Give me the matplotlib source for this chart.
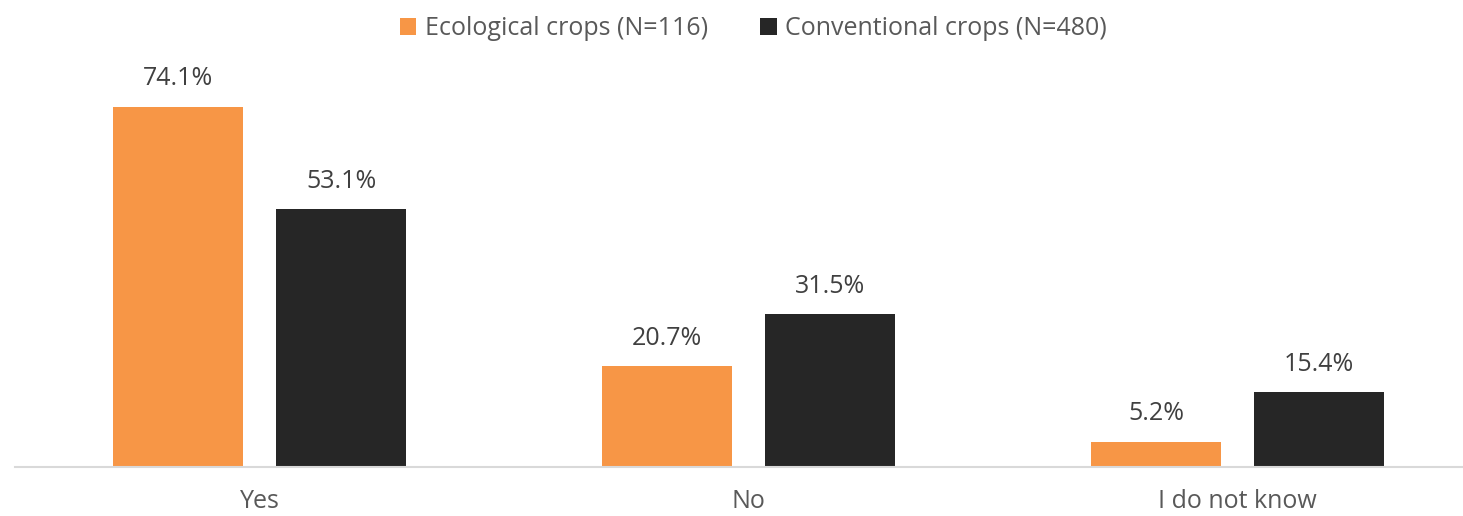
import matplotlib.pyplot as plt
import numpy as np

plt.rcParams['font.family'] = ['Open Sans', 'DejaVu Sans']

# data
categories = ['Yes', 'No', 'I do not know']
ecological = [74.1, 20.7, 5.2]
conventional = [53.1, 31.5, 15.4]
series_names = ['Ecological crops (N=116)', 'Conventional crops (N=480)']

orange = '#F79646'
dark = '#262626'

W, H = 1463, 516
fig = plt.figure(figsize=(W / 100, H / 100), dpi=100)
# axes placed in pixel terms: baseline at y=467, category band 489 px wide
ax = fig.add_axes([15 / W, 49 / H, 1467 / W, 389 / H])

x = np.arange(len(categories))
barWidth = 0.266
off = 0.1667

b1 = ax.bar(x - off, ecological, width=barWidth, color=orange, label=series_names[0])
b2 = ax.bar(x + off, conventional, width=barWidth, color=dark, label=series_names[1])

for bars, vals in [(b1, ecological), (b2, conventional)]:
    for b, v in zip(bars, vals):
        ax.annotate(f'{v:.1f}%', (b.get_x() + b.get_width() / 2, v),
                    xytext=(0, 11), textcoords='offset points',
                    ha='center', va='bottom', fontsize=18, color='#404040')

ax.set_xlim(-0.5, 2.5)
ax.set_ylim(0, 80)
ax.set_yticks([])
ax.set_xticks(x)
ax.set_xticklabels(categories, fontsize=18, color='#595959')
ax.tick_params(axis='x', length=0, pad=16)
for s in ['top', 'right', 'left']:
    ax.spines[s].set_visible(False)
ax.spines['bottom'].set_color('#D9D9D9')
ax.spines['bottom'].set_linewidth(1.5)

fig.legend(loc='upper center', bbox_to_anchor=(0.515, 1.012), ncol=2, frameon=False,
           fontsize=18, labelcolor='#595959', handlelength=0.65, handleheight=0.65,
           handletextpad=0.35, columnspacing=2.1)

plt.savefig('out.png', dpi=100)
